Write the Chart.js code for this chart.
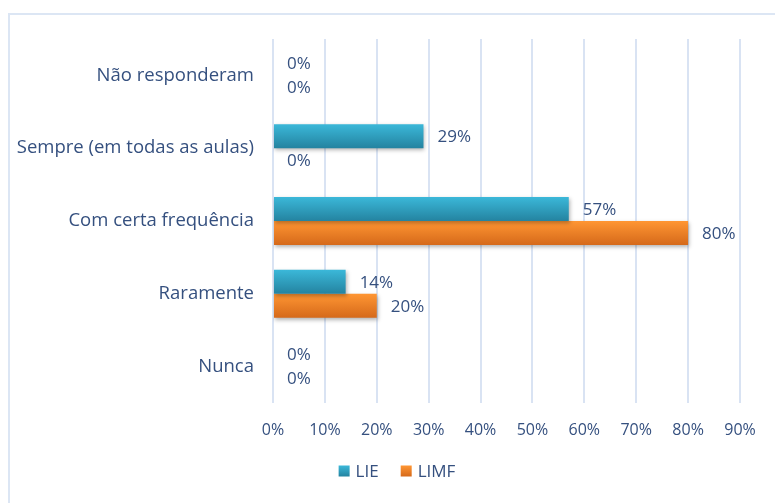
<!DOCTYPE html>
<html>
<head>
<meta charset="utf-8">
<script src="https://cdn.jsdelivr.net/npm/chart.js@4"></script>
<style>
  body { margin: 0; background: #fff; }
  #wrap { position: relative; width: 775px; height: 503px; }
  #frame { position: absolute; left: 8px; top: 13px; right: -10px; bottom: -10px;
           border-left: 2px solid #dce6f4; border-top: 2px solid #dce6f4; }
  canvas { position: absolute; left: 0; top: 0; }
</style>
</head>
<body>
<div id="wrap">
  <div id="frame"></div>
  <canvas id="chart" width="775" height="503"></canvas>
</div>
<script>
const categories = ['Não responderam', 'Sempre (em todas as aulas)', 'Com certa frequência', 'Raramente', 'Nunca']
const lieValues = [0, 29, 57, 14, 0]
const limfValues = [0, 0, 80, 20, 0]
const tickValues = [0, 10, 20, 30, 40, 50, 60, 70, 80, 90]

const textColor = '#35507f'
const fontFamily = '"Open Sans", Lato, sans-serif'
const groupShare = 0.66

const gradients = {
    LIE: ['#3bb8d9', '#2483a0'],
    LIMF: ['#ff9633', '#d5691a'],
}

/**
 * @name barGradient
 * @description Vertical gradient for one bar, from the category scale position.
 */
function barGradient(c) {
    const chart = c.chart
    const yScale = chart.scales.y
    const cols = gradients[chart.data.datasets[c.datasetIndex].label]
    if (!yScale || !chart.chartArea) return cols[0]
    const center = yScale.getPixelForValue(c.dataIndex)
    const band = yScale.height / categories.length
    const h = band * groupShare / 2
    const top = center - h + c.datasetIndex * h
    const g = chart.ctx.createLinearGradient(0, top, 0, top + h)
    g.addColorStop(0, cols[0])
    g.addColorStop(1, cols[1])
    return g
}

// soft shadow under the bars
const barShadow = {
    id: 'barShadow',
    beforeDatasetDraw(chart) {
        const ctx = chart.ctx
        ctx.save()
        ctx.shadowColor = 'rgba(0,0,0,0.3)'
        ctx.shadowBlur = 4
        ctx.shadowOffsetX = 1
        ctx.shadowOffsetY = 2
    },
    afterDatasetDraw(chart) {
        chart.ctx.restore()
    },
}

// value labels to the right of each bar
const valueLabels = {
    id: 'valueLabels',
    afterDatasetsDraw(chart) {
        const ctx = chart.ctx
        ctx.save()
        ctx.font = '17px ' + fontFamily
        ctx.fillStyle = textColor
        ctx.textAlign = 'left'
        ctx.textBaseline = 'middle'
        chart.data.datasets.forEach(function (ds, i) {
            chart.getDatasetMeta(i).data.forEach(function (bar, j) {
                ctx.fillText(ds.data[j] + '%', bar.x + 14, bar.y + 1)
            })
        })
        ctx.restore()
    },
}

// legend under the axis, centred a little right of the canvas middle
const bottomLegend = {
    id: 'bottomLegend',
    afterDraw(chart) {
        const ctx = chart.ctx
        const box = 11, gap = 6, spacing = 22
        const y = 471
        ctx.save()
        ctx.font = '17px ' + fontFamily
        ctx.textBaseline = 'middle'
        ctx.textAlign = 'left'
        const items = chart.data.datasets.map(function (ds) {
            return { label: ds.label, w: box + gap + ctx.measureText(ds.label).width }
        })
        const total = items.reduce(function (s, it) { return s + it.w }, 0) + spacing * (items.length - 1)
        let x = 397 - total / 2
        items.forEach(function (it) {
            const cols = gradients[it.label]
            const g = ctx.createLinearGradient(0, y - box / 2, 0, y + box / 2)
            g.addColorStop(0, cols[0])
            g.addColorStop(1, cols[1])
            ctx.fillStyle = g
            ctx.fillRect(x, y - box / 2, box, box)
            ctx.fillStyle = textColor
            ctx.fillText(it.label, x + box + gap, y + 1)
            x += it.w + spacing
        })
        ctx.restore()
    },
}

const ctx = document.getElementById('chart').getContext('2d')
new Chart(ctx, {
    type: 'bar',
    data: {
        labels: categories,
        datasets: [
            { label: 'LIE', data: lieValues, backgroundColor: barGradient },
            { label: 'LIMF', data: limfValues, backgroundColor: barGradient },
        ],
    },
    options: {
        indexAxis: 'y',
        responsive: false,
        animation: false,
        categoryPercentage: groupShare,
        barPercentage: 1,
        layout: { padding: { top: 39, right: 35, bottom: 58, left: 0 } },
        scales: {
            x: {
                min: 0,
                max: 90,
                afterBuildTicks: function (scale) {
                    scale.ticks = tickValues.map(function (v) { return { value: v } })
                },
                afterFit: function (scale) { scale.height = 42 },
                grid: { color: '#d9e3f3', lineWidth: 2, drawTicks: false },
                border: { display: false },
                ticks: {
                    padding: 18,
                    color: textColor,
                    font: { size: 16, family: fontFamily },
                    callback: function (v) { return v + '%' },
                },
            },
            y: {
                afterFit: function (scale) { scale.width = 273 },
                grid: { display: false, drawTicks: false },
                border: { display: false },
                ticks: {
                    padding: 19,
                    color: textColor,
                    font: { size: 18.5, family: fontFamily },
                },
            },
        },
        plugins: {
            legend: { display: false },
            tooltip: { enabled: false },
        },
    },
    plugins: [barShadow, valueLabels, bottomLegend],
})
</script>
</body>
</html>
